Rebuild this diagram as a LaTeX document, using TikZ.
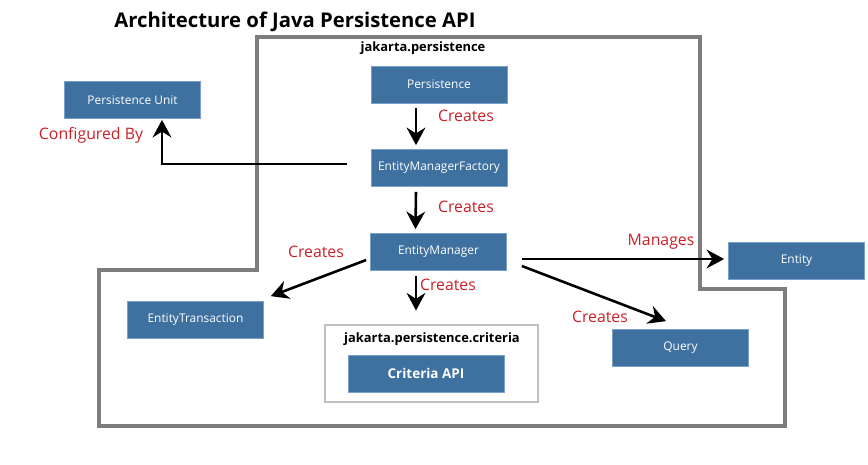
\documentclass[tikz,border=0pt]{standalone}
\usepackage{fontspec}
\setmainfont{Open Sans}
\usepackage{tikz}
\usetikzlibrary{arrows.meta}
\usetikzlibrary{calc}
\definecolor{boxblue}{RGB}{62,113,160}
\definecolor{boxedge}{RGB}{120,160,200}
\definecolor{lblred}{RGB}{204,32,39}
\definecolor{pkggray}{RGB}{125,125,125}
\definecolor{critgray}{RGB}{192,192,192}

\begin{document}
\begin{tikzpicture}[x=0.03cm,y=-0.03cm,
  >={Stealth[length=15pt,width=16pt,inset=5pt]},
  arr/.style={->,line width=2.2pt,black},
  blk/.style={fill=boxblue,draw=boxedge,line width=0.6pt,text=white,font=\fontsize{10.2}{12}\selectfont,minimum width=4.08cm,minimum height=1.11cm,inner sep=0pt},
  lbl/.style={text=lblred,font=\fontsize{13.5}{16}\selectfont,inner sep=0pt}]

  \useasboundingbox (0,0) rectangle (868,464);

  \node [font=\bfseries\fontsize{17.3}{20}\selectfont] (title) at (295,22) {Architecture of Java Persistence API};

  \draw [pkggray,line width=2.6pt] (257,37) -- (700,37) -- (700,289) -- (785,289) -- (785,426) -- (99,426) -- (99,270) -- (257,270) -- cycle;
  \node [font=\bfseries\fontsize{11}{13}\selectfont] (pkg) at (423,48) {jakarta.persistence};

  \node [blk] (pu) at (132.5,100) {Persistence Unit};
  \node [blk] (pers) at (439,84.5) {Persistence};
  \node [blk] (emf) at (439,168) {EntityManagerFactory};
  \node [blk] (em) at (438.5,252) {EntityManager};
  \node [blk] (et) at (195.5,320) {EntityTransaction};
  \node [blk] (ent) at (796.5,260.5) {Entity};
  \node [blk] (query) at (680.5,348) {Query};

  \node [draw=critgray,line width=2.5pt,minimum width=6.39cm,minimum height=2.31cm] (critbox) at (431.5,363.5) {};
  \node [font=\bfseries\fontsize{11}{13}\selectfont] (critpkg) at (432,339) {jakarta.persistence.criteria};
  \node [blk,minimum width=4.68cm,font=\bfseries\fontsize{11.5}{13}\selectfont] (crit) at (426,373.5) {Criteria API};

  \foreach \x/\y [count=\i] in {466/116,466/207,316/252,448/285,600/317}
    \node [lbl] (cr\i) at (\x,\y) {Creates};
  \node [lbl] (mng) at (661,242) {Manages};
  \node [lbl] (cfg) at (91,135) {Configured By};

  \draw [arr] ($(pers.south)+(-23,5)$) -- ($(emf.north)+(-23,-4)$);
  \draw [arr] ($(emf.south)+(-23,5)$) -- ($(em.north)+(-23,-4)$);
  \draw [arr] ($(em.west)+(-4,8)$) -- ($(et.north east)+(7,-5)$);
  \draw [arr] ($(em.south)+(-22.5,5)$) -- ($(critbox.north)+(-15.5,-13)$);
  \draw [arr] ($(em.east)+(15,7)$) -- ($(ent.west)+(-4,-1.5)$);
  \draw [arr] ($(em.east)+(15,14)$) -- ($(query.north)+(-14.5,-8)$);
  \draw [arr] ($(emf.west)+(-24,-4)$) -| ($(pu.south)+(29.5,1)$);

\end{tikzpicture}
\end{document}
